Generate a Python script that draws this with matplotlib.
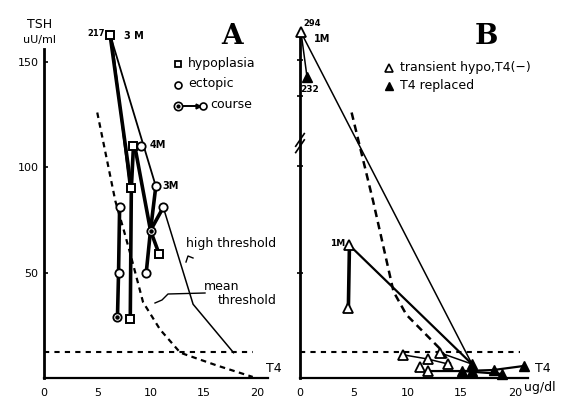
import matplotlib
matplotlib.use("Agg")
import matplotlib.pyplot as plt
import numpy as np

plt.rcParams['font.family'] = ['DejaVu Sans']

W, H = 564, 398
# ---------------- data (panel A) ----------------
x_ticks = [0, 5, 10, 15, 20]
a_y_ticks = [50, 100, 150]

a_hypo_x = [6.2, 8.1, 8.2, 8.4, 10.8]
a_hypo_y = [163, 28, 90, 110, 59]
a_ecto_x = [9.1, 10.5, 11.2, 7.1, 7.0, 9.6]
a_ecto_y = [110, 91, 81, 81, 50, 50]
a_course_x = [6.9, 10.0]
a_course_y = [29, 70]

# thick course lines
a_thick = [
    ([6.2, 8.2, 8.1], [163, 90, 28]),
    ([8.4, 8.2], [110, 90]),
    ([6.9, 7.0, 7.1], [29, 50, 81]),
    ([9.6, 10.0, 11.2], [50, 70, 81]),
    ([8.6, 10.0, 10.8], [108, 70, 59]),
    ([10.5, 10.0], [91, 70]),
]
a_thin = [
    ([6.2, 10.5], [163, 91]),
    ([6.4, 8.0], [160, 92]),
]
high_thr_x = [11.2, 14.0, 17.8]
high_thr_y = [81, 35, 12]
mean_thr_x = [5.0, 6.7, 7.5, 8.1, 9.3, 10.9, 12.8, 16.2, 19.6]
mean_thr_y = [126, 84, 70, 59, 36, 23, 12, 6, 0.5]
a_hline_y = 12.3
a_hline_x = [0, 19.6]

# ---------------- data (panel B) ----------------
b_open_x = [0.1, 4.6, 4.5, 9.6, 11.9, 13.0, 13.8, 11.2, 11.9]
b_open_y = [164, 63, 33, 11, 9, 12, 6.6, 5.2, 3.3]
b_fill_x = [0.65, 16.0, 15.1, 16.0, 18.0, 18.8, 20.8]
b_fill_y = [143, 6.6, 3.3, 3.3, 3.8, 1.9, 5.7]
b_thin = [
    ([0.1, 16.0], [164, 6.6]),
    ([0.1, 0.65], [164, 143]),
    ([9.6, 11.9, 13.8], [11, 9, 6.6]),
    ([13.0, 16.0], [12, 6.6]),
]
b_mid = [
    ([4.6, 16.0], [63, 6.6]),
    ([11.9, 15.1, 18.0, 20.8], [3.3, 3.3, 3.8, 5.7]),
    ([15.1, 18.8], [3.3, 1.9]),
]
b_thick = [
    ([4.6, 4.5], [63, 33]),
]
b_dash_x = [4.8, 6.8, 8.7, 9.9, 13.0, 14.0]
b_dash_y = [126, 84, 41, 30, 14, 6.6]
b_hline_y = 12.3
b_hline_x = [0, 20.5]
b_y_ticks = [50, 100.6, 134, 151]

# ---------------- figure ----------------
fig = plt.figure(figsize=(W / 100, H / 100), dpi=100)

def fx(px):
    return px / W

def fy(py):
    return 1 - py / H

YMAX = 165
base = 378
ppy = 2.107

axA = fig.add_axes([fx(44), fy(base), (21 * 10.65) / W, (YMAX * ppy) / H])
axA.set_xlim(0, 21)
axA.set_ylim(0, YMAX)
axB = fig.add_axes([fx(300), fy(base), (21.2 * 10.75) / W, (YMAX * ppy) / H])
axB.set_xlim(0, 21.2)
axB.set_ylim(0, YMAX)

for ax in (axA, axB):
    ax.patch.set_alpha(0)
    ax.spines['top'].set_visible(False)
    ax.spines['right'].set_visible(False)
    ax.spines['left'].set_linewidth(2)
    ax.spines['bottom'].set_linewidth(1.6)
    ax.set_xticks(x_ticks)
    ax.set_xticklabels([str(t) for t in x_ticks], fontsize=8)
    ax.tick_params(axis='x', length=0, pad=7)

axA.spines['left'].set_bounds(0, 156)
axA.set_yticks(a_y_ticks)
axA.set_yticklabels([str(t) for t in a_y_ticks], fontsize=8)
axA.tick_params(axis='y', direction='in', length=3, width=1.2, pad=4)

axB.spines['left'].set_bounds(0, 165)
axB.set_yticks(b_y_ticks)
axB.set_yticklabels([])
axB.tick_params(axis='y', direction='inout', length=4, width=1.2)

# ----- panel A drawing -----
for xs, ys in a_thick:
    axA.plot(xs, ys, color='black', lw=2.6, zorder=3, solid_capstyle='round')
for xs, ys in a_thin:
    axA.plot(xs, ys, color='black', lw=1.3, zorder=3)
axA.plot(high_thr_x, high_thr_y, color='black', lw=1.1, zorder=2)
axA.plot(mean_thr_x, mean_thr_y, color='black', lw=1.6, ls=(0, (2.5, 2)), zorder=2)
axA.plot(a_hline_x, [a_hline_y] * 2, color='black', lw=1.5, ls=(0, (2.5, 2.5)), zorder=2)
axA.plot(a_hypo_x, a_hypo_y, ls='none', marker='s', ms=5.5, mfc='white', mec='black', mew=1.4, zorder=5, clip_on=False)
axA.plot(a_ecto_x, a_ecto_y, ls='none', marker='o', ms=6, mfc='white', mec='black', mew=1.3, zorder=5, clip_on=False)
axA.plot(a_course_x, a_course_y, ls='none', marker='o', ms=6, mfc='white', mec='black', mew=1.3, zorder=5)
axA.plot(a_course_x, a_course_y, ls='none', marker='o', ms=2.2, mfc='black', mec='black', zorder=6)

# ----- panel B drawing -----
for xs, ys in b_thin:
    axB.plot(xs, ys, color='black', lw=1.1, zorder=3)
for xs, ys in b_mid:
    axB.plot(xs, ys, color='black', lw=1.6, zorder=3)
for xs, ys in b_thick:
    axB.plot(xs, ys, color='black', lw=2.6, zorder=3)
axB.plot(b_dash_x, b_dash_y, color='black', lw=1.8, ls=(0, (3, 2)), zorder=2)
axB.plot(b_hline_x, [b_hline_y] * 2, color='black', lw=1.5, ls=(0, (2.5, 2.5)), zorder=2)
axB.plot(b_open_x, b_open_y, ls='none', marker='^', ms=6.5, mfc='white', mec='black', mew=1.3, zorder=5, clip_on=False)
axB.plot(b_fill_x, b_fill_y, ls='none', marker='^', ms=6.5, mfc='black', mec='black', zorder=5, clip_on=False)
axB.plot([-0.4, 0.4], [110, 116], color='black', lw=1.2, clip_on=False)
axB.plot([-0.4, 0.4], [107, 113], color='black', lw=1.2, clip_on=False)

# ----- texts -----
fig.text(fx(40), fy(24), 'TSH', fontsize=9, ha='center', va='center')
fig.text(fx(40), fy(40), 'uU/ml', fontsize=8, ha='center', va='center')
fig.text(fx(232), fy(36), 'A', fontsize=20, fontweight='bold', family='DejaVu Serif', ha='center', va='center')
fig.text(fx(486), fy(36), 'B', fontsize=20, fontweight='bold', family='DejaVu Serif', ha='center', va='center')

fig.text(fx(96), fy(34), '217', fontsize=6, fontweight='bold', ha='center', va='center')
fig.text(fx(124), fy(36), '3 M', fontsize=7, fontweight='bold', ha='left', va='center')
fig.text(fx(150), fy(145), '4M', fontsize=7, fontweight='bold', ha='left', va='center')
fig.text(fx(162), fy(186), '3M', fontsize=7, fontweight='bold', ha='left', va='center')

# legend A (symbols drawn as figure-level markers)
def fmark(px, py, **kw):
    fig.add_artist(plt.Line2D([fx(px)], [fy(py)], ls='none', **kw))

fmark(178, 64, marker='s', ms=5, mfc='white', mec='black', mew=1.3)
fig.text(fx(188), fy(63), 'hypoplasia', fontsize=9, ha='left', va='center')
fmark(178, 85, marker='o', ms=5, mfc='white', mec='black', mew=1.2)
fig.text(fx(188), fy(84), 'ectopic', fontsize=9, ha='left', va='center')
fig.add_artist(plt.Line2D([fx(180), fx(200)], [fy(106), fy(106)], color='black', lw=1.4))
fmark(178, 106, marker='o', ms=6, mfc='white', mec='black', mew=1.2)
fmark(178, 106, marker='o', ms=2, mfc='black', mec='black')
fmark(198, 106, marker='>', ms=3.5, mfc='black', mec='black')
fmark(203, 106, marker='o', ms=5, mfc='white', mec='black', mew=1.2)
fig.text(fx(210), fy(105), 'course', fontsize=9, ha='left', va='center')

fig.text(fx(186), fy(243), 'high threshold', fontsize=9, ha='left', va='center')
fig.text(fx(204), fy(287), 'mean', fontsize=9, ha='left', va='center')
fig.text(fx(218), fy(301), 'threshold', fontsize=9, ha='left', va='center')
fig.add_artist(plt.Line2D([fx(193), fx(188), fx(186)], [fy(258), fy(256), fy(262)], color='black', lw=1))
fig.add_artist(plt.Line2D([fx(205), fx(168), fx(162), fx(155)], [fy(293), fy(294), fy(300), fy(303)], color='black', lw=1))

fig.text(fx(274), fy(368), 'T4', fontsize=9, ha='center', va='center')
fig.text(fx(543), fy(369), 'T4', fontsize=9, ha='center', va='center')
fig.text(fx(540), fy(387), 'ug/dl', fontsize=9, ha='center', va='center')

fig.text(fx(312), fy(24), '294', fontsize=6, fontweight='bold', ha='center', va='center')
fig.text(fx(322), fy(39), '1M', fontsize=7, fontweight='bold', ha='center', va='center')
fig.text(fx(310), fy(90), '232', fontsize=6.5, fontweight='bold', ha='center', va='center')
fig.text(fx(338), fy(244), '1M', fontsize=6.5, fontweight='bold', ha='center', va='center')

# legend B
fmark(389, 68, marker='^', ms=6, mfc='white', mec='black', mew=1.2)
fig.text(fx(400), fy(67), 'transient hypo,T4(\u2212)', fontsize=9, ha='left', va='center')
fmark(389, 86, marker='^', ms=6, mfc='black', mec='black')
fig.text(fx(400), fy(85), 'T4 replaced', fontsize=9, ha='left', va='center')

fig.savefig('out.png', dpi=100)
